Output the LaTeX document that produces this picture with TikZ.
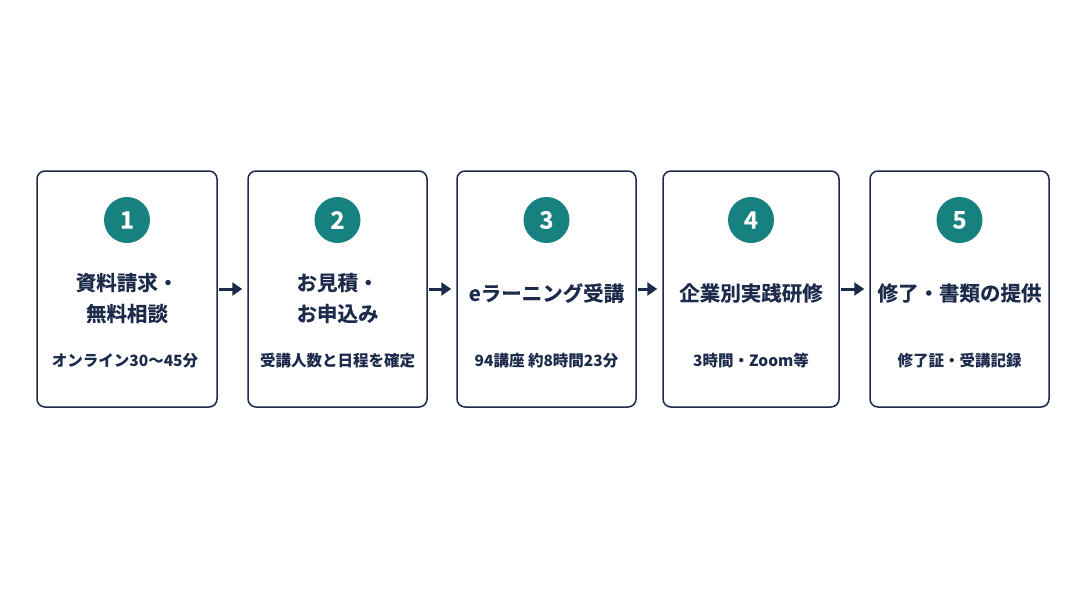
\documentclass[tikz,border=0pt]{standalone}
\usepackage{fontspec}
\setmainfont{Noto Sans CJK JP}
\newfontfamily\jpheavy[FakeBold=0.35]{Noto Sans CJK JP Bold}
\usetikzlibrary{arrows.meta,positioning}
\definecolor{navy}{HTML}{1C2B4B}
\definecolor{teal1}{HTML}{17817F}
\tikzset{
  stepbox/.style={draw=navy,line width=1.5pt,rounded corners=8pt,minimum height=236pt,inner sep=0pt},
  numcirc/.style={circle,fill=teal1,minimum size=46pt,inner sep=0pt,text=white,font=\fontsize{24}{24}\selectfont\jpheavy},
  titletext/.style={text=navy,font=\fontsize{20.5}{31}\selectfont\jpheavy,align=center,inner sep=0pt},
  subtext/.style={text=navy,font=\fontsize{15.5}{17}\selectfont\bfseries,align=center,inner sep=0pt},
  flow/.style={draw=navy,line width=3pt,-{Triangle[length=10pt,width=13pt]},shorten >=5pt,shorten <=1pt}
}
\begin{document}
\begin{tikzpicture}[x=1pt,y=-1pt]
\useasboundingbox[fill=white] (0,0) rectangle (1088,608);
\node[stepbox,minimum width=180pt] (b1) at (127,289) {};
\node[stepbox,minimum width=179pt] (b2) at (337.5,289) {};
\node[stepbox,minimum width=179pt] (b3) at (546.5,289) {};
\node[stepbox,minimum width=176pt] (b4) at (751,289) {};
\node[stepbox,minimum width=179pt] (b5) at (959.5,289) {};
\node[numcirc] (c1) at (127,220) {1};
\node[numcirc] (c2) at (337.5,220) {2};
\node[numcirc] (c3) at (546.5,220) {3};
\node[numcirc] (c4) at (751,220) {4};
\node[numcirc] (c5) at (959.5,220) {5};
\node[titletext] (t1) at (127,298) {資料請求・\\無料相談};
\node[titletext] (t2) at (337.5,298) {お見積・\\お申込み};
\node[titletext] (t3) at (546.5,293) {eラーニング受講};
\node[titletext] (t4) at (751,293) {企業別実践研修};
\node[titletext] (t5) at (959.5,293) {修了・書類の提供};
\node[subtext] (s1) at (125,361) {オンライン30〜45分};
\node[subtext] (s2) at (337.5,361) {受講人数と日程を確定};
\node[subtext] (s3) at (546.5,361) {94講座 約8時間23分};
\node[subtext] (s4) at (751,361) {3時間・Zoom等};
\node[subtext] (s5) at (959.5,361) {修了証・受講記録};
\draw[flow] (b1.east) -- (b2.west);
\draw[flow] (b2.east) -- (b3.west);
\draw[flow] (b3.east) -- (b4.west);
\draw[flow] (b4.east) -- (b5.west);
\end{tikzpicture}
\end{document}
